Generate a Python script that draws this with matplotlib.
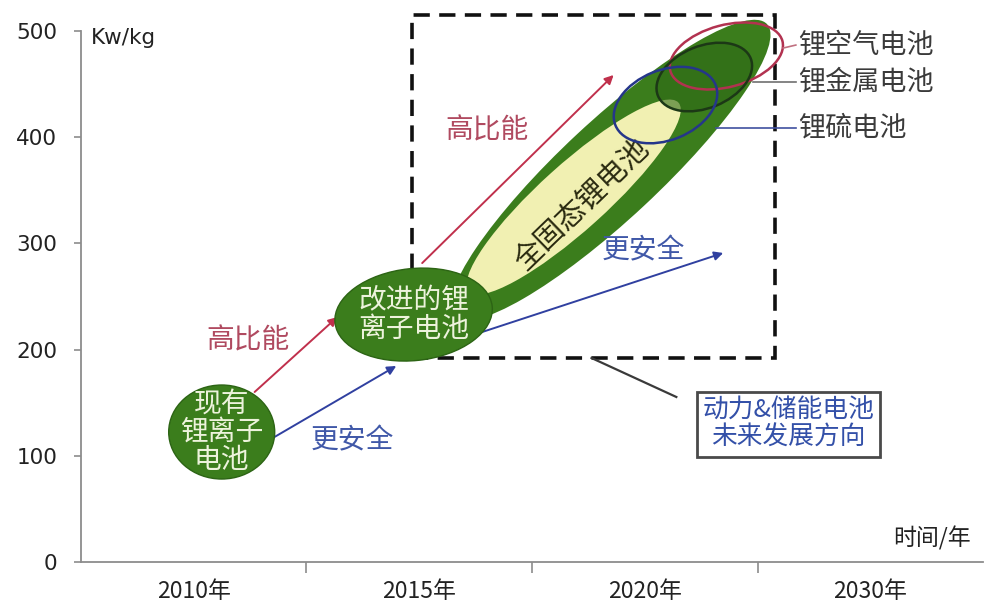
import matplotlib
matplotlib.use("Agg")
import matplotlib.pyplot as plt
from matplotlib.patches import Ellipse, Rectangle
import matplotlib.transforms as mtransforms

plt.rcParams['font.family'] = ['Noto Sans CJK SC', 'DejaVu Sans']

# ---------------- data ----------------
categories = ["2010年", "2015年", "2020年", "2030年"]
y_ticks = [0, 100, 200, 300, 400, 500]
y_unit = "Kw/kg"
x_unit = "时间/年"

# technology bubbles: (x, y) centres in data units
bubble_names = ["现有\n锂离子\n电池", "改进的锂\n离子电池"]
bubble_x = [0.624, 1.475]
bubble_y = [122.4, 233.0]

solid_state_name = "全固态锂电池"
solid_outer_xy = (2.348, 369.1)
solid_inner_xy = (2.185, 343.7)
solid_text_xy = (2.222, 336.2)

ring_names = ["锂空气电池", "锂金属电池", "锂硫电池"]
ring_x = [2.862, 2.764, 2.592]
ring_y = [476.5, 456.7, 430.3]
ring_line_x0 = [3.114, 2.981, 2.817]
ring_line_y0 = [484.0, 452.0, 408.7]
ring_label_x = 3.18
ring_label_y = [486.8, 452.0, 408.7]

# arrows: start -> end
arrow_labels = ["高比能", "更安全", "高比能", "更安全"]
arrow_x0 = [0.770, 0.858, 1.513, 1.765]
arrow_y0 = [160.1, 117.7, 281.5, 215.6]
arrow_x1 = [1.137, 1.398, 2.362, 2.848]
arrow_y1 = [230.7, 184.6, 458.6, 291.0]
arrow_text_x = [0.739, 1.203, 1.800, 2.494]
arrow_text_y = [209.0, 114.9, 406.8, 293.8]

future_box_x = [1.468, 3.078]
future_box_y = [192.0, 515.0]
callout_text = "动力&储能电池\n未来发展方向"
callout_xy = (3.136, 129.5)
callout_line = ([2.264, 2.640], [192.1, 155.4])

# ---------------- figure ----------------
fig = plt.figure(figsize=(9.84, 6.11), dpi=100)
fig.patch.set_facecolor("white")
ax = fig.add_axes([0.0823, 0.0802, 0.9167, 0.8690])
ax.set_xlim(0, 4)
ax.set_ylim(0, 500)
ax.set_facecolor("none")

axis_col = "#8c8c8c"
for s in ["top", "right"]:
    ax.spines[s].set_visible(False)
for s in ["left", "bottom"]:
    ax.spines[s].set_color(axis_col)
    ax.spines[s].set_linewidth(1.3)

ax.set_yticks(y_ticks)
ax.set_yticklabels([str(v) for v in y_ticks], fontsize=15.5, family="DejaVu Sans", color="#222222")
ax.tick_params(axis="y", direction="out", length=5, color=axis_col, width=1.2, pad=12)
ax.set_xticks([1, 2, 3])
ax.set_xticklabels([])
ax.tick_params(axis="x", which="major", direction="out", length=8, color=axis_col, width=1.2)
ax.set_xticks([0.5, 1.5, 2.5, 3.5], minor=True)
ax.set_xticklabels(categories, minor=True, fontsize=16.5, color="#222222")
ax.tick_params(axis="x", which="minor", length=0, pad=13)

ax.annotate(y_unit, xy=(0, 500), xytext=(7, -5), textcoords="offset points",
            ha="left", va="center", fontsize=15.5, family="DejaVu Sans", color="#222222")
ax.text(3.945, 22.6, x_unit, ha="right", va="center", fontsize=16.5, color="#222222")


def ell(xy, w_px, h_px, angle, **kw):
    tr = fig.dpi_scale_trans + mtransforms.ScaledTranslation(xy[0], xy[1], ax.transData)
    e = Ellipse((0, 0), w_px / 100, h_px / 100, angle=angle, transform=tr, clip_on=False, **kw)
    ax.add_patch(e)
    return e


green = "#3b7d1c"
yellow = "#f1f0b2"
txt_light = "#edf3dc"

# dashed future box
rect = Rectangle((future_box_x[0], future_box_y[0]), future_box_x[1] - future_box_x[0],
                 future_box_y[1] - future_box_y[0], fill=False, ec="#111111", lw=2.6,
                 ls=(0, (4.5, 2.6)), clip_on=False, zorder=1)
ax.add_patch(rect)

# solid state lithium battery
ell(solid_outer_xy, 428, 98, 43, fc=green, ec="none", zorder=2)
ell(solid_inner_xy, 282, 66, 42, fc=yellow, ec="none", zorder=3)
ax.text(solid_text_xy[0], solid_text_xy[1], solid_state_name, rotation=44, ha="center",
        va="center", fontsize=21, color="#2a2a10", zorder=4, rotation_mode="anchor")

# rings
ring_cols = ["#b23250", "#1c3816", "#25368a"]
ring_sizes = [(116, 62, 15), (100, 62, 22), (108, 70, 22)]
# darker tint inside the lithium-metal ring
ell((ring_x[1], ring_y[1]), 100, 62, 22, fc="#2f6a16", ec="none", zorder=4, alpha=0.6)
for i in range(3):
    w, h, a = ring_sizes[i]
    ell((ring_x[i], ring_y[i]), w, h, a, fc="none", ec=ring_cols[i], lw=1.8, zorder=5)
line_cols = ["#c07080", "#707070", "#4050a0"]
for i in range(3):
    ax.plot([ring_line_x0[i], ring_label_x - 0.01], [ring_line_y0[i], ring_label_y[i]],
            color=line_cols[i], lw=1.2, clip_on=False, zorder=5)
    ax.text(ring_label_x, ring_label_y[i], ring_names[i], ha="left", va="center",
            fontsize=19.5, color="#3a3a3a", zorder=6)

# bubbles
bub_sizes = [(106, 94, 0), (158, 92, 6)]
for i in range(2):
    w, h, a = bub_sizes[i]
    ell((bubble_x[i], bubble_y[i]), w, h, a, fc=green, ec="#2c6414", lw=1.0, zorder=6)
    ax.text(bubble_x[i], bubble_y[i], bubble_names[i], ha="center", va="center",
            fontsize=20, color=txt_light, linespacing=0.92, zorder=7)

# arrows
arrow_cols = ["#c0304c", "#3040a0", "#c0304c", "#3040a0"]
text_cols = ["#b04a60", "#4058a8", "#b04a60", "#4058a8"]
for i in range(4):
    ax.annotate("", xy=(arrow_x1[i], arrow_y1[i]), xytext=(arrow_x0[i], arrow_y0[i]),
                arrowprops=dict(arrowstyle="-|>", color=arrow_cols[i], lw=1.4,
                                mutation_scale=13, shrinkA=0, shrinkB=0), zorder=5)
    ax.text(arrow_text_x[i], arrow_text_y[i], arrow_labels[i], ha="center", va="center",
            fontsize=20, color=text_cols[i], zorder=6)

# callout
ax.plot(callout_line[0], callout_line[1], color="#3a3a3a", lw=1.6, zorder=5)
ax.text(callout_xy[0], callout_xy[1], callout_text, ha="center", va="center",
        fontsize=18.5, color="#3350a8", linespacing=1.05, zorder=6,
        bbox=dict(boxstyle="square,pad=0.22", fc="white", ec="#4a4a4a", lw=2))

fig.savefig("out.png", dpi=100)
